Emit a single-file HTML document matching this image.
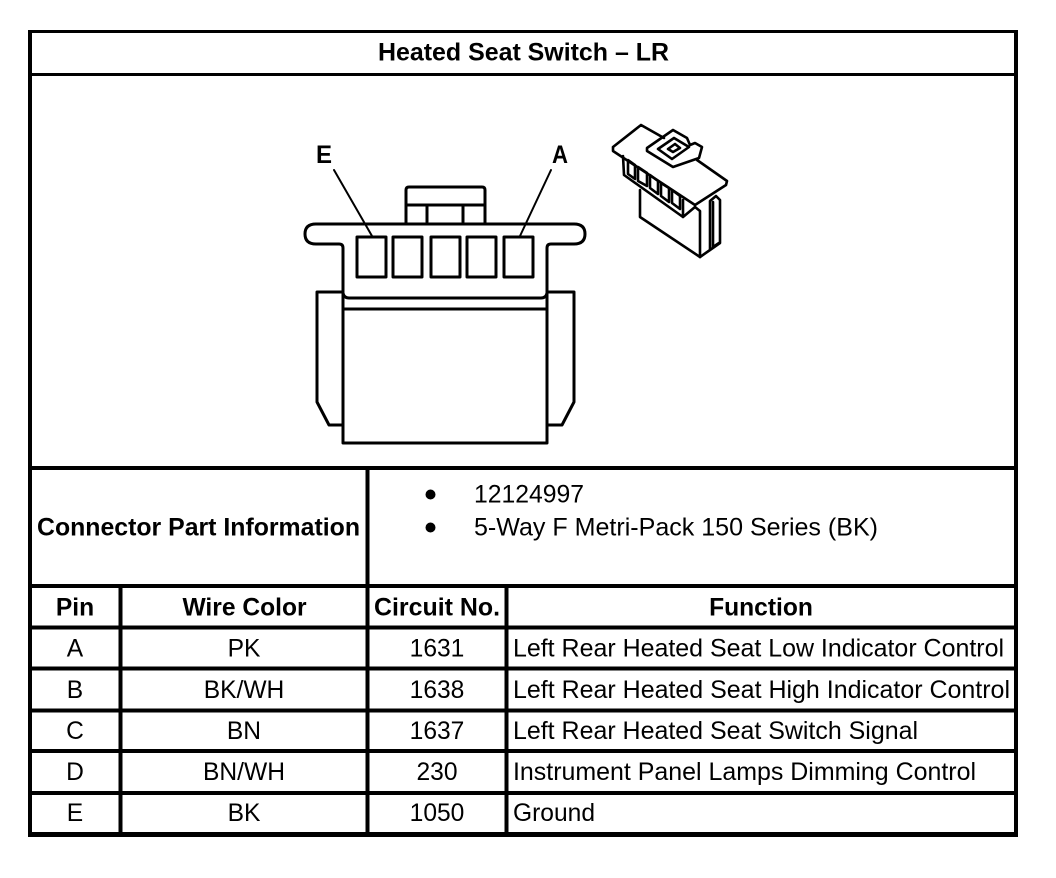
<!DOCTYPE html>
<html><head><meta charset="utf-8"><style>
html,body{margin:0;padding:0;background:#fff}
svg{display:block}
text{font-family:"Liberation Sans",Arial,sans-serif;font-size:25.4px;fill:#000}
.b{font-weight:bold}
.m{text-anchor:middle;font-size:24.6px}
.t line{stroke:#000;shape-rendering:crispEdges}
.d{fill:none;stroke:#000;stroke-width:3;stroke-linejoin:round;stroke-linecap:round}
.i{fill:none;stroke:#000;stroke-width:2.6;stroke-linejoin:round;stroke-linecap:round}
</style></head><body>
<svg width="1056" height="878" viewBox="0 0 1056 878" xmlns="http://www.w3.org/2000/svg">
<rect width="1056" height="878" fill="#fff"/>
<g class="t">
<line x1="28" y1="31.5" x2="1018" y2="31.5" stroke-width="3"/>
<line x1="28" y1="74.5" x2="1018" y2="74.5" stroke-width="3"/>
<line x1="28" y1="468" x2="1018" y2="468" stroke-width="4"/>
<line x1="28" y1="586" x2="1018" y2="586" stroke-width="4"/>
<line x1="28" y1="627.5" x2="1018" y2="627.5" stroke-width="4"/>
<line x1="28" y1="668.5" x2="1018" y2="668.5" stroke-width="4"/>
<line x1="28" y1="710.5" x2="1018" y2="710.5" stroke-width="4"/>
<line x1="28" y1="751" x2="1018" y2="751" stroke-width="4"/>
<line x1="28" y1="793" x2="1018" y2="793" stroke-width="4"/>
<line x1="28" y1="834.500" x2="1018" y2="834.500" stroke-width="5"/>
<line x1="30" y1="30" x2="30" y2="837" stroke-width="4"/>
<line x1="1016" y1="30" x2="1016" y2="837" stroke-width="4"/>
<line x1="120.500" y1="586" x2="120.500" y2="834" stroke-width="4"/>
<line x1="367.500" y1="468" x2="367.500" y2="834" stroke-width="4"/>
<line x1="506.500" y1="586" x2="506.500" y2="834" stroke-width="4"/>
</g>

<text class="b" x="378" y="60.500" textLength="291" lengthAdjust="spacingAndGlyphs">Heated Seat Switch – LR</text>
<text class="b" x="37" y="535.500" textLength="323" lengthAdjust="spacingAndGlyphs">Connector Part Information</text>
<circle cx="430.500" cy="494.500" r="5"/>
<circle cx="430.500" cy="527.500" r="5"/>
<text x="474" y="502.500" textLength="110" lengthAdjust="spacingAndGlyphs">12124997</text>
<text x="474" y="535.500" textLength="404" lengthAdjust="spacingAndGlyphs">5-Way F Metri-Pack 150 Series (BK)</text>

<text class="b m" x="75" y="615.500">Pin</text>
<text class="b m" x="244.500" y="615.500">Wire Color</text>
<text class="b" x="374" y="615.500" textLength="126" lengthAdjust="spacingAndGlyphs">Circuit No.</text>
<text class="b m" x="761" y="615.500">Function</text>

<text class="m" x="75" y="656.500">A</text><text class="m" x="244" y="656.500">PK</text><text class="m" x="437" y="656.500">1631</text>
<text x="513" y="656.500" textLength="491" lengthAdjust="spacingAndGlyphs">Left Rear Heated Seat Low Indicator Control</text>
<text class="m" x="75" y="698">B</text><text class="m" x="244" y="698">BK/WH</text><text class="m" x="437" y="698">1638</text>
<text x="513" y="698" textLength="497" lengthAdjust="spacingAndGlyphs">Left Rear Heated Seat High Indicator Control</text>
<text class="m" x="75" y="739">C</text><text class="m" x="244" y="739">BN</text><text class="m" x="437" y="739">1637</text>
<text x="513" y="739" textLength="405" lengthAdjust="spacingAndGlyphs">Left Rear Heated Seat Switch Signal</text>
<text class="m" x="75" y="780">D</text><text class="m" x="244" y="780">BN/WH</text><text class="m" x="437" y="780">230</text>
<text x="513" y="780" textLength="463" lengthAdjust="spacingAndGlyphs">Instrument Panel Lamps Dimming Control</text>
<text class="m" x="75" y="821">E</text><text class="m" x="244" y="821">BK</text><text class="m" x="437" y="821">1050</text>
<text x="513" y="821" textLength="82" lengthAdjust="spacingAndGlyphs">Ground</text>

<!-- front connector -->
<text class="b" x="316" y="163" textLength="16" lengthAdjust="spacingAndGlyphs">E</text>
<text class="b" x="552" y="163" textLength="16" lengthAdjust="spacingAndGlyphs">A</text>
<path class="d" style="stroke-width:2" d="M334 170L372 236M551 170L520 236"/>
<path class="d" d="M406 223V190Q406 187 409 187H482Q485 187 485 190V223M406 205H485M427 206V222M463 206V222"/>
<path class="d" d="M343 296V248Q343 244 339 244H316Q305 244 305 234Q305 224 316 224H574Q585 224 585 234Q585 244 574 244H551Q547 244 547 248V296"/>
<path class="d" d="M343 293Q344 298 349 298H541Q546 298 547 293"/>
<path class="d" d="M343 309H547"/>
<path class="d" d="M343 293V443H547V293"/>
<path class="d" d="M343 292H317V402L329 425H343M547 292H574V402L562 425H547"/>
<rect class="d" x="357" y="237" width="29" height="40"/>
<rect class="d" x="393" y="237" width="29" height="40"/>
<rect class="d" x="431" y="237" width="29" height="40"/>
<rect class="d" x="467" y="237" width="29" height="40"/>
<rect class="d" x="504" y="237" width="29" height="40"/>

<!-- iso connector -->
<path class="i" d="M613 147L641 125L664 138M697 160L727 181L726 185L695 205L613 151L613 147"/>
<path class="i" d="M647 148L673 130L687 138L690 145L695 143L702 147L699 158L673 167L647 151Z"/>
<path class="i" d="M658 149L674 138L689 147L672 159ZM668 149L675 144L680 148L673 152Z"/>
<path class="i" d="M623 156L624 175L683 217L695 207M683 217V200"/>
<path class="i" d="M628 160L635 165V179L628 174ZM638 167L647 173V186L638 181ZM650 175L658 181V194L650 188ZM661 183L669 188V202L661 196ZM672 190L680 196V209L672 203Z"/>
<path class="i" d="M640 190V217L700 257V211L695 207"/>
<path class="i" d="M700 257L710 250L720 243V200L716 196L710 201V250M713 202V247L719 243"/>
</svg>
</body></html>
